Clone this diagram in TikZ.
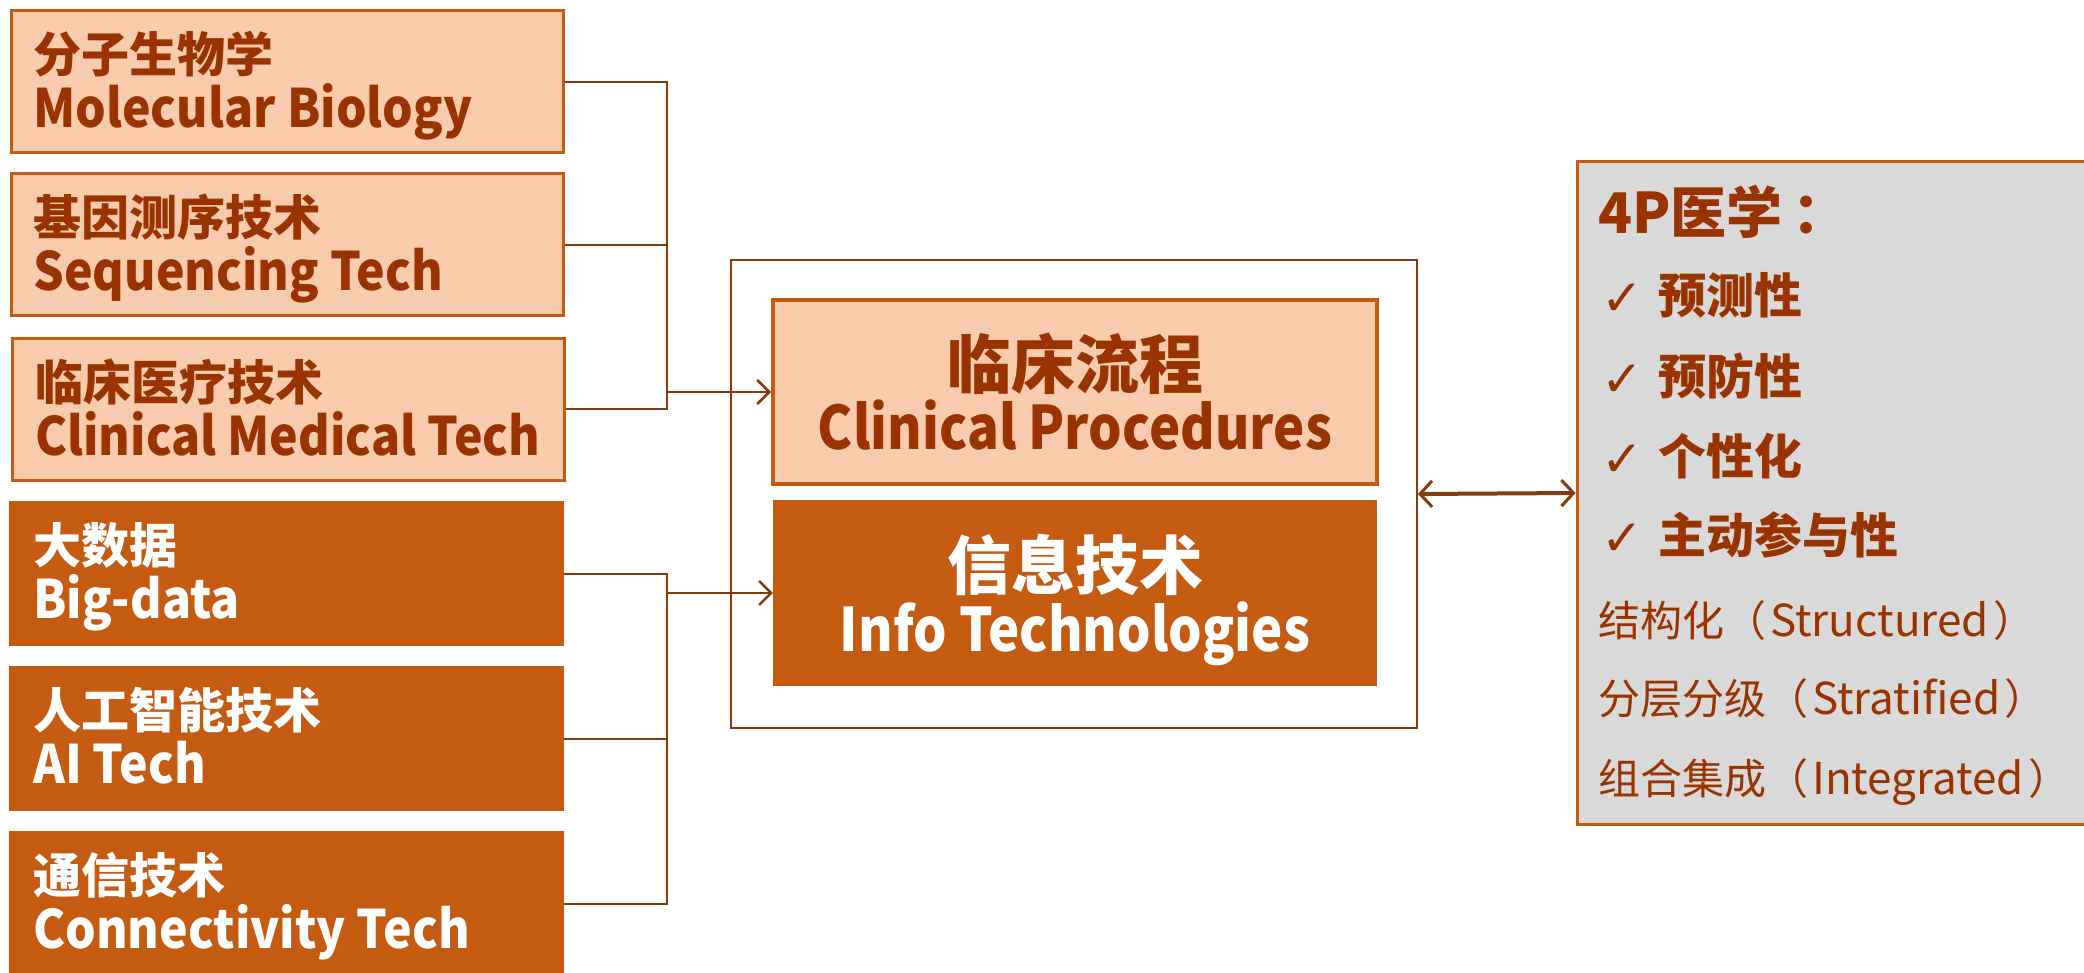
\documentclass[tikz,border=0pt]{standalone}
\usepackage{fontspec}
\setmainfont{Noto Sans CJK SC}
\newfontfamily\condA[FakeStretch=0.91]{Noto Sans CJK SC}
\newfontfamily\condB[FakeStretch=0.88]{Noto Sans CJK SC}
\newfontfamily\dejavu{DejaVu Sans}
\usetikzlibrary{arrows.meta}
\definecolor{peach}{HTML}{F8CBAD}
\definecolor{orng}{HTML}{C55A11}
\definecolor{txt}{HTML}{993300}
\definecolor{conn}{HTML}{843C0C}
\definecolor{gry}{HTML}{D9D9D9}
\newcommand\fsz[1]{\fontsize{#1}{#1}\selectfont}
\begin{document}
\begin{tikzpicture}[x=1pt,y=-1pt,
  lightbox/.style={draw=orng, line width=3pt, fill=peach, minimum width=552pt, minimum height=142pt, inner sep=0pt},
  darkbox/.style={fill=orng, draw=none, minimum width=555pt, minimum height=145pt, inner sep=0pt},
  lcn/.style={anchor=base west, inner sep=0pt, text=txt, font=\fsz{48}\bfseries},
  len/.style={anchor=base west, inner sep=0pt, text=txt, font=\fsz{53}\condA\bfseries},
  dcn/.style={lcn, text=white},
  den/.style={len, text=white},
  cn/.style={draw=conn, line width=2pt},
  arr/.style={cn, -{Straight Barb[length=12pt,width=24pt,line width=2.5pt]}},
  dbl/.style={draw=conn, line width=4pt, {Straight Barb[length=12pt,width=26pt,line width=3pt]}-{Straight Barb[length=12pt,width=26pt,line width=3pt]}},
  ptxt/.style={anchor=base west, inner sep=0pt, text=txt},
  chk/.style={ptxt, font=\fsz{50}\dejavu},
  ]
\useasboundingbox (0,0) rectangle (2084,973);
% left boxes
\node[lightbox] (b1) at (287,82) {};
\node[lcn] (b1c) at (33,73) {分子生物学};
\node[len] (b1e) at (33,128) {Molecular Biology};
\node[lightbox] (b2) at (287,245) {};
\node[lcn] (b2c) at (33,236) {基因测序技术};
\node[len] (b2e) at (33,291) {Sequencing Tech};
\node[lightbox] (b3) at (288,409) {};
\node[lcn] (b3c) at (35,400) {临床医疗技术};
\node[len] (b3e) at (35,455) {Clinical Medical Tech};
\node[darkbox] (b4) at (286,573.5) {};
\node[dcn] (b4c) at (33,563) {大数据};
\node[den] (b4e) at (33,618) {Big-data};
\node[darkbox] (b5) at (286,738.5) {};
\node[dcn] (b5c) at (33,728) {人工智能技术};
\node[den] (b5e) at (33,783) {AI Tech};
\node[darkbox] (b6) at (286,903.5) {};
\node[dcn] (b6c) at (33,893) {通信技术};
\node[den] (b6e) at (33,948) {Connectivity Tech};
% center
\node[draw=conn, line width=2pt, minimum width=686pt, minimum height=468pt, inner sep=0pt] (outer) at (1074,494) {};
\node[draw=orng, line width=4pt, fill=peach, minimum width=604pt, minimum height=184pt, inner sep=0pt] (clin) at (1075,392) {};
\node[fill=orng, minimum width=604pt, minimum height=186pt, inner sep=0pt] (info) at (1075,593) {};
\node[anchor=base, inner sep=0pt, text=txt, font=\fsz{64}\bfseries] (clinc) at (1075,388) {临床流程};
\node[anchor=base, inner sep=0pt, text=txt, font=\fsz{60}\condB\bfseries] (cline) at (1075,449) {Clinical Procedures};
\node[anchor=base, inner sep=0pt, text=white, font=\fsz{64}\bfseries] (infoc) at (1075,589) {信息技术};
\node[anchor=base, inner sep=0pt, text=white, font=\fsz{60}\condB\bfseries] (infoe) at (1075,651) {Info Technologies};
% connectors
\coordinate (j1) at (667,392);
\coordinate (j2) at (667,593);
\draw[cn] (b1.east) -| (j1);
\draw[cn] (b2.east) -| (j1);
\draw[cn] (b3.east) -| (j1);
\draw[arr] (j1) -- (clin.west);
\draw[cn] (b4.east) -| (j2);
\draw[cn] (b5.east) -| (j2);
\draw[cn] (b6.east) -| (j2);
\draw[arr] (j2) -- (info.west);
% 4P box
\node[draw=orng, line width=3pt, fill=gry, minimum width=523pt, minimum height=662pt, inner sep=0pt] (p4) at (1838.5,493) {};
\draw[dbl] (outer.east) -- (p4.west);
\node[ptxt, font=\fsz{56}\bfseries] (ph) at (1598,234) {4P医学\hspace{10pt}：};
\node[chk] (k1) at (1601,316) {✓};
\node[ptxt, font=\fsz{48}\bfseries] (t1) at (1658,314) {预测性};
\node[chk] (k2) at (1601,396) {✓};
\node[ptxt, font=\fsz{48}\bfseries] (t2) at (1658,394) {预防性};
\node[chk] (k3) at (1601,476) {✓};
\node[ptxt, font=\fsz{48}\bfseries] (t3) at (1658,474) {个性化};
\node[chk] (k4) at (1601,555) {✓};
\node[ptxt, font=\fsz{48}\bfseries] (t4) at (1658,553) {主动参与性};
\node[ptxt, font=\fsz{42}] (n1) at (1598,636) {结构化（\hspace{4pt}{\fsz{44}Structured}\hspace{4pt}）};
\node[ptxt, font=\fsz{42}] (n2) at (1598,714) {分层分级（\hspace{4pt}{\fsz{44}Stratified}\hspace{4pt}）};
\node[ptxt, font=\fsz{42}] (n3) at (1598,794) {组合集成（\hspace{4pt}{\fsz{44}Integrated}\hspace{4pt}）};
\end{tikzpicture}
\end{document}
